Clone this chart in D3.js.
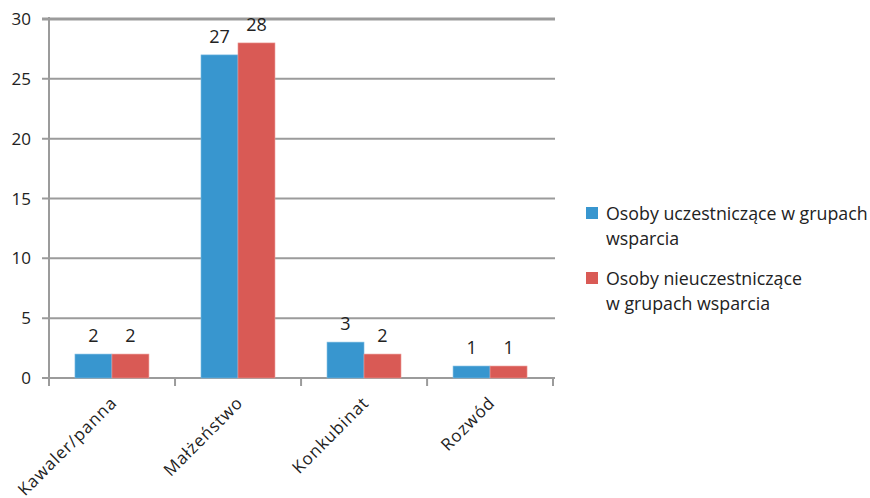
<!DOCTYPE html>
<html>
<head>
<meta charset="utf-8">
<script src="https://cdn.jsdelivr.net/npm/d3@7"></script>
<style>
  body { margin: 0; background: #fff; }
  svg { font-family: "Open Sans", "DejaVu Sans", sans-serif; }
</style>
</head>
<body>
<div id="chart"></div>
<script>
var categories = ['Kawaler/panna', 'Małżeństwo', 'Konkubinat', 'Rozwód'];
var seriesNames = [
    ['Osoby uczestniczące w grupach', 'wsparcia'],
    ['Osoby nieuczestniczące', 'w grupach wsparcia']
];
var uczestniczace = [2, 27, 3, 1];
var nieuczestniczace = [2, 28, 2, 1];
var yTicks = [0, 5, 10, 15, 20, 25, 30];
var colors = ['#3896cf', '#d95a55'];

var width = 870, height = 498;
var plotLeft = 49, plotRight = 553, plotTop = 19, plotBottom = 378;

var svg = d3.select('#chart').append('svg')
    .attr('width', width)
    .attr('height', height);

var y = d3.scaleLinear().domain([0, 30]).range([plotBottom, plotTop]);
var x0 = d3.scaleBand().domain(categories).range([plotLeft, plotRight])
    .paddingInner(0.413).paddingOuter(0.206);
var x1 = d3.scaleBand().domain([0, 1]).range([0, x0.bandwidth()]);

// gridlines + y labels
var grid = svg.append('g');
grid.selectAll('line')
    .data(yTicks).enter()
    .append('line')
    .attr('x1', plotLeft - 7)
    .attr('x2', plotRight + 2)
    .attr('y1', function (d) { return y(d); })
    .attr('y2', function (d) { return y(d); })
    .attr('stroke', '#9b9b9b')
    .attr('stroke-width', function (d) { return d == 30 ? 3 : 2; });

grid.selectAll('text')
    .data(yTicks).enter()
    .append('text')
    .attr('x', 31)
    .attr('y', function (d) { return y(d) + 6; })
    .attr('text-anchor', 'end')
    .attr('fill', '#222')
    .style('font-size', '17px')
    .text(function (d) { return d; });

// y axis line
svg.append('line')
    .attr('x1', plotLeft).attr('x2', plotLeft)
    .attr('y1', plotTop - 2).attr('y2', plotBottom + 8)
    .attr('stroke', '#9b9b9b').attr('stroke-width', 2);

// category ticks
var tickX = categories.map(function (c) { return x0(c) - x0.step() * 0.206; });
tickX.push(plotRight);
svg.selectAll('.ctick')
    .data(tickX).enter()
    .append('line')
    .attr('class', 'ctick')
    .attr('x1', function (d) { return d; })
    .attr('x2', function (d) { return d; })
    .attr('y1', plotBottom).attr('y2', plotBottom + 8)
    .attr('stroke', '#9b9b9b').attr('stroke-width', 2);

// bars
var rows = categories.map(function (c, i) {
    return { cat: c, vals: [uczestniczace[i], nieuczestniczace[i]] };
});
var groups = svg.selectAll('.grp')
    .data(rows).enter()
    .append('g')
    .attr('class', 'grp')
    .attr('transform', function (d) { return 'translate(' + x0(d.cat) + ',0)'; });

groups.selectAll('rect')
    .data(function (d) { return d.vals; }).enter()
    .append('rect')
    .attr('x', function (d, i) { return x1(i); })
    .attr('y', function (d) { return y(d); })
    .attr('width', x1.bandwidth())
    .attr('height', function (d) { return plotBottom - y(d); })
    .attr('fill', function (d, i) { return colors[i]; })
    .attr('stroke', function (d, i) { return i ? '#ec9a96' : '#7fbde3'; })
    .attr('stroke-width', 0.6);

groups.selectAll('text')
    .data(function (d) { return d.vals; }).enter()
    .append('text')
    .attr('x', function (d, i) { return x1(i) + x1.bandwidth() / 2; })
    .attr('y', function (d) { return y(d) - 12; })
    .attr('text-anchor', 'middle')
    .attr('fill', '#222')
    .style('font-size', '18px')
    .text(function (d) { return d; });

// rotated category labels
svg.selectAll('.clabel')
    .data(categories).enter()
    .append('text')
    .attr('class', 'clabel')
    .attr('transform', function (d) {
        return 'translate(' + (x0(d) + x0.bandwidth() / 2 + 6) + ',' + (plotBottom + 26) + ') rotate(-45)';
    })
    .attr('text-anchor', 'end')
    .attr('fill', '#222')
    .style('font-size', '17px')
    .style('letter-spacing', '0.9px')
    .text(function (d) { return d; });

// legend
var legend = svg.selectAll('.leg')
    .data(seriesNames).enter()
    .append('g')
    .attr('class', 'leg')
    .attr('transform', function (d, i) { return 'translate(586,' + (207 + i * 65) + ')'; });

legend.append('rect')
    .attr('width', 12).attr('height', 12)
    .attr('fill', function (d, i) { return colors[i]; });

legend.each(function (d) {
    var g = d3.select(this);
    d.forEach(function (line, j) {
        g.append('text')
            .attr('x', 20)
            .attr('y', 13 + j * 25)
            .attr('fill', '#222')
            .style('font-size', '17.8px')
            .text(line);
    });
});
</script>
</body>
</html>
